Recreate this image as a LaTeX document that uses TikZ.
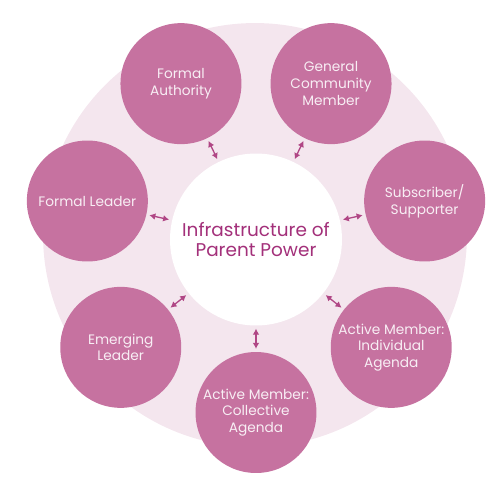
\documentclass[tikz,border=0pt]{standalone}
\usepackage{fontspec}
\setmainfont{Poppins}
\usepackage{tikz}
\usetikzlibrary{arrows.meta}
\definecolor{ringpink}{HTML}{F4E6EE}
\definecolor{rolepink}{HTML}{C672A0}
\definecolor{hubtext}{HTML}{A3307A}
\definecolor{arrowpink}{HTML}{B04685}
\definecolor{roletext}{HTML}{F8EEF4}

\begin{document}
\begin{tikzpicture}[x=0.02cm, y=0.02cm, role/.style={circle,fill=rolepink,minimum size=2.42cm,inner sep=0pt,outer sep=0pt,align=center,text=roletext,font=\fontsize{7.8}{9.5}\selectfont}, hub/.style={circle,fill=white,minimum size=3.44cm,inner sep=0pt,outer sep=0pt,align=center,text=hubtext,font=\fontsize{10.5}{11.2}\selectfont}, link/.style={{Latex[length=3.4pt,width=3.8pt]}-{Latex[length=3.4pt,width=3.8pt]},line width=0.75pt,draw=arrowpink,shorten >=1.8pt,shorten <=1.8pt}]
\useasboundingbox (-256,-258.5) rectangle (244,239.5);
\fill[ringpink] (-1,4.5) circle[radius=4.24cm];
\node[hub] (hub) at (0,0) {Infrastructure of\\Parent Power};
\node[role] (collective) at (-90:173) {Active Member:\\Collective\\Agenda};
\node[role] (individual) at (-38.57:173) {Active Member:\\Individual\\Agenda};
\node[role] (subscriber) at (12.86:173) {Subscriber/\\Supporter};
\node[role] (community) at (64.29:173) {General\\Community\\Member};
\node[role] (authority) at (115.71:173) {Formal\\Authority};
\node[role] (leader) at (167.14:173) {Formal Leader};
\node[role] (emerging) at (218.57:173) {Emerging\\Leader};
\draw[link] (hub) -- (collective);
\draw[link] (hub) -- (individual);
\draw[link] (hub) -- (subscriber);
\draw[link] (hub) -- (community);
\draw[link] (hub) -- (authority);
\draw[link] (hub) -- (leader);
\draw[link] (hub) -- (emerging);
\end{tikzpicture}
\end{document}
